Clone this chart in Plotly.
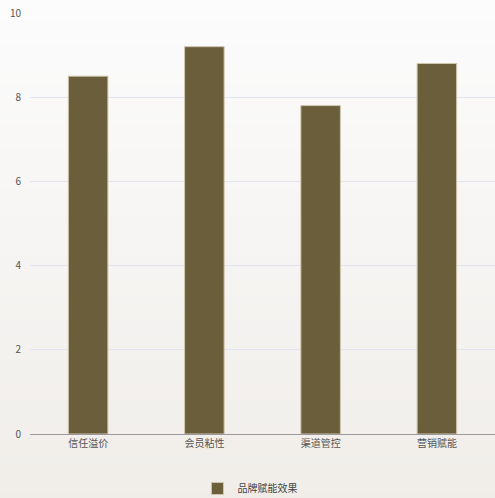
import plotly.graph_objects as go

categories = ["信任溢价", "会员粘性", "渠道管控", "营销赋能"]
values = [8.5, 9.2, 7.8, 8.8]
series_name = "品牌赋能效果"
y_ticks = [0, 2, 4, 6, 8, 10]

fig = go.Figure()
fig.add_trace(go.Bar(
    x=categories, y=values, name=series_name,
    width=0.34,
    marker=dict(color="#6b5e3a", line=dict(color="#cfc6ad", width=1)),
))

# vertical background gradient (white top -> warm beige bottom)
top = (252, 252, 252)
bot = (240, 237, 233)
n = 40
shapes = []
for i in range(n):
    t = i / (n - 1)
    c = tuple(int(round(top[k] + (bot[k] - top[k]) * t)) for k in range(3))
    shapes.append(dict(type="rect", xref="paper", yref="paper", layer="below",
                       x0=-0.1, x1=1.1,
                       y1=1.05 - i * (1.25 / n), y0=1.05 - (i + 1) * (1.25 / n) - 0.002,
                       line=dict(width=0), fillcolor="rgb(%d,%d,%d)" % c))

fig.update_layout(
    width=495, height=498,
    margin=dict(l=30, r=0, t=13, b=64, autoexpand=False),
    paper_bgcolor="#f6f5f2",
    plot_bgcolor="rgba(0,0,0,0)",
    shapes=shapes,
    font=dict(family="Noto Sans CJK SC, Noto Sans, sans-serif", size=10, color="#555"),
    showlegend=True,
    legend=dict(orientation="h", x=0.473, xanchor="center", y=-0.095, yanchor="top",
                bgcolor="rgba(0,0,0,0)",
                font=dict(size=10, color="#444"), itemwidth=30),
    xaxis=dict(showgrid=False, showline=True, linecolor="#9a9a9a", linewidth=1,
               ticks="", automargin=False, tickfont=dict(size=10, color="#555")),
    yaxis=dict(range=[0, 10], tickvals=y_ticks, showgrid=True, gridcolor="#e2e5f0",
               gridwidth=1, zeroline=False, ticks="", ticklabelstandoff=8,
               automargin=False, tickfont=dict(size=10, color="#555")),
    bargap=0.66,
)

fig.write_html("out.html", config={"displayModeBar": False},
               post_script="document.body.style.margin='0';document.body.style.overflow='hidden';")
